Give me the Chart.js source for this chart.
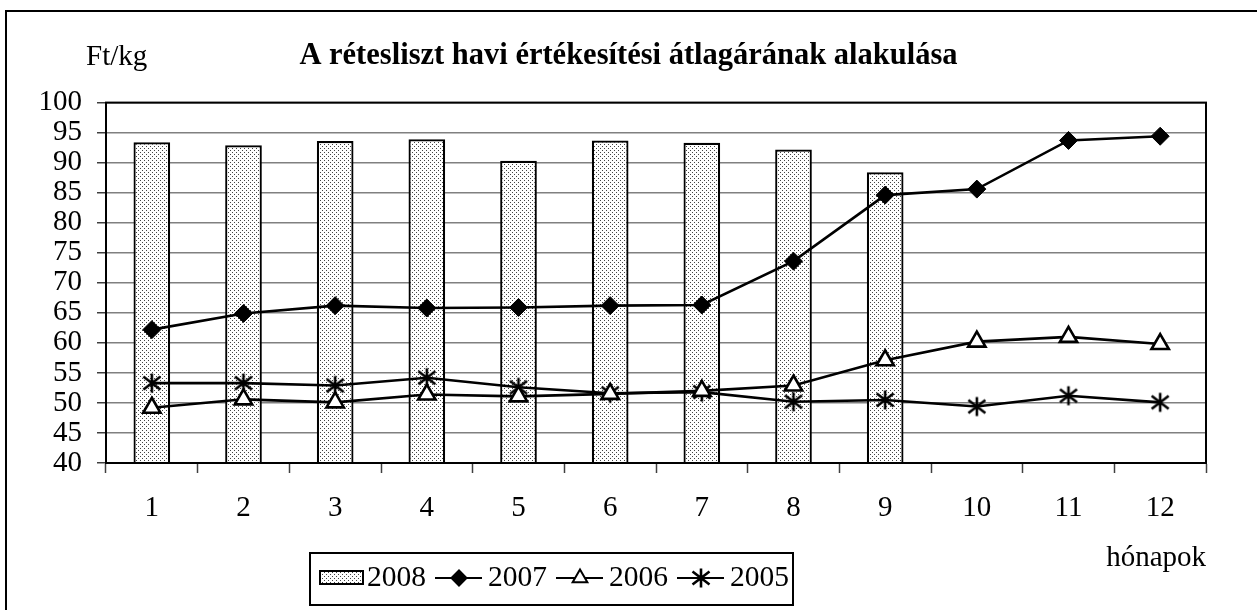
<!DOCTYPE html>
<html>
<head>
<meta charset="utf-8">
<script src="https://cdn.jsdelivr.net/npm/chart.js@4/dist/chart.umd.min.js"></script>
<style>
  html, body { margin: 0; padding: 0; background: #fff; }
  canvas { display: block; }
</style>
</head>
<body>
<canvas id="chart" width="1257" height="610"></canvas>
<script>
const months = ['1', '2', '3', '4', '5', '6', '7', '8', '9', '10', '11', '12'];
const y2008 = [93.4, 92.9, 93.6, 93.9, 90.3, 93.7, 93.3, 92.2, 88.4, null, null, null];
const y2007 = [62.2, 64.9, 66.2, 65.8, 65.9, 66.2, 66.3, 73.6, 84.6, 85.6, 93.7, 94.4];
const y2006 = [49.2, 50.6, 50.1, 51.4, 51.1, 51.5, 52.0, 52.9, 57.1, 60.2, 61.0, 59.8];
const y2005 = [53.3, 53.3, 52.9, 54.2, 52.6, 51.6, 51.8, 50.2, 50.5, 49.4, 51.2, 50.1];
const seriesNames = ['2008', '2007', '2006', '2005'];

const titleText = 'A rétesliszt havi értékesítési átlagárának alakulása';
const yUnit = 'Ft/kg';
const xName = 'hónapok';

const serif = "'Times New Roman', 'Liberation Serif', serif";

Chart.defaults.font.family = serif;
Chart.defaults.font.size = 29;
Chart.defaults.color = '#000';

const ctx = document.getElementById('chart').getContext('2d');

// dotted fill for the bars
const makeDots = () => {
  const c = document.createElement('canvas');
  c.width = 4;
  c.height = 4;
  const g = c.getContext('2d');
  g.fillStyle = '#fff';
  g.fillRect(0, 0, 4, 4);
  g.fillStyle = '#444';
  g.fillRect(0, 0, 1, 1);
  g.fillRect(2, 2, 1, 1);
  return ctx.createPattern(c, 'repeat');
};

const makeStar = () => {
  const c = document.createElement('canvas');
  c.width = 24;
  c.height = 24;
  const g = c.getContext('2d');
  g.strokeStyle = '#000';
  g.lineWidth = 2.6;
  g.beginPath();
  g.moveTo(12, 2.5); g.lineTo(12, 21.5);
  g.moveTo(3.5, 5.5); g.lineTo(20.5, 18.5);
  g.moveTo(20.5, 5.5); g.lineTo(3.5, 18.5);
  g.stroke();
  return c;
};

const dots = makeDots();
const star = makeStar();

const lineBase = {
  type: 'line',
  borderColor: '#000',
  borderWidth: 2.6,
  pointBorderColor: '#000',
  pointBorderWidth: 2.6,
  pointRadius: 9,
  tension: 0,
};

const framePlugin = {
  id: 'frame',
  beforeDraw: chart => {
    const c = chart.ctx;
    c.save();
    c.fillStyle = '#fff';
    c.fillRect(0, 0, chart.width, chart.height);
    c.strokeStyle = '#000';
    c.lineWidth = 2;
    c.strokeRect(6, 11, chart.width + 10, chart.height + 10);
    c.restore();
  },
  afterDraw: chart => {
    const c = chart.ctx;
    const a = chart.chartArea;
    c.save();
    c.strokeStyle = '#000';
    c.lineWidth = 2;
    c.strokeRect(a.left, a.top, a.right - a.left, a.bottom - a.top);

    c.font = `29px ${serif}`;
    c.fillStyle = '#000';
    c.textAlign = 'left';
    c.textBaseline = 'alphabetic';
    c.fillText(yUnit, 86, 65);

    // legend
    const boxL = 310, boxT = 553, boxR = 793, boxB = 605;
    const cy = 578;
    c.lineWidth = 2;
    c.strokeRect(boxL, boxT, boxR - boxL, boxB - boxT);
    c.font = `29.5px ${serif}`;
    c.textBaseline = 'middle';
    let x = 320;
    chart.data.datasets.forEach(ds => {
      if (ds.type === 'line') {
        c.strokeStyle = ds.borderColor;
        c.lineWidth = 2;
        c.beginPath();
        c.moveTo(x, cy);
        c.lineTo(x + 47, cy);
        c.stroke();
        c.fillStyle = ds.pointBackgroundColor;
        c.strokeStyle = ds.pointBorderColor;
        c.lineWidth = 2;
        Chart.helpers.drawPoint(c, {
          pointStyle: ds.pointStyle,
          radius: ds.pointRadius - 1.5,
          borderWidth: 2,
          rotation: 0,
        }, x + 24, cy);
        x += 53;
      } else {
        c.fillStyle = ds.backgroundColor;
        c.fillRect(x, cy - 7, 43, 13);
        c.strokeStyle = '#000';
        c.lineWidth = 2;
        c.strokeRect(x, cy - 7, 43, 13);
        x += 47;
      }
      c.fillStyle = '#000';
      c.fillText(ds.label, x, cy);
      x += c.measureText(ds.label).width + 9;
    });
    c.restore();
  }
};

new Chart(ctx, {
  type: 'bar',
  data: {
    labels: months,
    datasets: [
      {
        label: seriesNames[0],
        data: y2008,
        backgroundColor: dots,
        borderColor: '#000',
        borderWidth: 2.2,
        categoryPercentage: 0.8,
        barPercentage: 0.5,
        order: 4,
      },
      {
        ...lineBase,
        label: seriesNames[1],
        data: y2007,
        pointStyle: 'rectRot',
        pointBackgroundColor: '#000',
        pointBorderWidth: 1,
        order: 3,
      },
      {
        ...lineBase,
        label: seriesNames[2],
        data: y2006,
        pointStyle: 'triangle',
        pointRadius: 10,
        pointBackgroundColor: '#fff',
        order: 1,
      },
      {
        ...lineBase,
        label: seriesNames[3],
        data: y2005,
        pointStyle: star,
        pointBackgroundColor: '#000',
        order: 2,
      },
    ]
  },
  options: {
    responsive: false,
    animation: false,
    events: [],
    layout: {
      padding: { left: 0, right: 0, top: 0, bottom: 0 }
    },
    plugins: {
      legend: { display: false },
      tooltip: { enabled: false },
      title: {
        display: true,
        text: titleText,
        font: { size: 30.5, weight: 'bold' },
        padding: { top: 38, bottom: 28 },
      },
    },
    scales: {
      x: {
        offset: true,
        grid: {
          offset: true,
          drawOnChartArea: false,
          tickLength: 10,
          tickColor: '#404040',
          tickWidth: 1.5,
        },
        border: { color: '#000', width: 2 },
        ticks: { padding: 18, maxRotation: 0, autoSkip: false },
        title: {
          display: true,
          text: xName,
          align: 'end',
          padding: { top: 0, bottom: 34 },
        },
        afterFit: s => { s.height = 147; },
      },
      y: {
        min: 40,
        max: 100,
        grid: {
          color: '#808080',
          lineWidth: 1.5,
          tickLength: 9,
          tickColor: '#404040',
        },
        border: { color: '#000', width: 2 },
        ticks: { stepSize: 5, padding: 15, autoSkip: false },
        afterFit: s => { s.width = 106; },
      },
      // empty right margin
      yRight: {
        position: 'right',
        min: 40,
        max: 100,
        grid: { display: false },
        border: { display: false },
        ticks: { display: false },
        afterFit: s => { s.width = 51; },
      },
    },
  },
  plugins: [framePlugin],
});
</script>
</body>
</html>
